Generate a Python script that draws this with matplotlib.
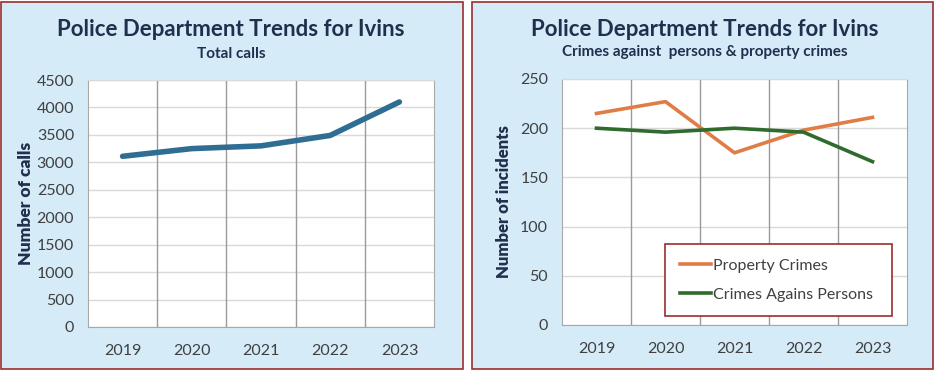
import numpy as np
import matplotlib.pyplot as plt
from matplotlib.patches import Rectangle

# data
years = ['2019', '2020', '2021', '2022', '2023']
total_calls = [3110, 3250, 3300, 3490, 4100]
property_crimes = [215, 227, 175, 198, 211]
person_crimes = [200, 196, 200, 196, 166]

plt.rcParams['font.family'] = ['Lato', 'DejaVu Sans']

W, H = 936, 370
fig = plt.figure(figsize=(W / 100, H / 100), dpi=100)

bg = '#d5ebf8'
border = '#9b2d2d'
navy = '#1f2f4d'
txt = '#404040'

# panel backgrounds with the red frame (pixel coords -> fig fractions)
for x0, x1 in [(1, 463), (472, 933)]:
    fig.patches.append(Rectangle((x0 / W, 1 / H), (x1 - x0) / W, (H - 3) / H,
                                 transform=fig.transFigure, facecolor=bg,
                                 edgecolor=border, lw=1.2, zorder=-5))


def setup(ax, ymax, ystep):
    x = np.arange(len(years))
    ax.set_facecolor('white')
    ax.set_xlim(-0.5, len(years) - 0.5)
    ax.set_ylim(0, ymax)
    ax.set_yticks(np.arange(0, ymax + 1, ystep))
    ax.set_xticks(x)
    ax.set_xticklabels(years)
    ax.tick_params(length=0, labelsize=11.5, labelcolor=txt)
    ax.tick_params(axis='x', pad=12)
    ax.tick_params(axis='y', pad=10)
    ax.yaxis.grid(True, color='#d9d9d9', lw=1)
    for b in np.arange(0.5, len(years) - 0.5):
        ax.axvline(b, color='#9a9a9a', lw=1, zorder=1)
    for s in ['left', 'right', 'bottom']:
        ax.spines[s].set_color('#a8a8a8')
    ax.spines['top'].set_color('#d9d9d9')
    ax.set_axisbelow(True)
    return x


# left panel: total calls
ax1 = fig.add_axes([88 / W, 1 - 327 / H, 346 / W, 247 / H])
x = setup(ax1, 4500, 500)
ax1.plot(x, total_calls, color='#2f6e92', lw=4, solid_capstyle='round',
         solid_joinstyle='round', zorder=3)
ax1.set_ylabel('Number of calls', fontsize=12.5, fontweight='heavy', color=navy, labelpad=2)
fig.text(231 / W, 1 - 30 / H, 'Police Department Trends for Ivins', ha='center', va='center',
         fontsize=16, fontweight='bold', color=navy)
fig.text(231 / W, 1 - 54 / H, 'Total calls', ha='center', va='center',
         fontsize=11, fontweight='bold', color=navy)

# right panel: crimes
ax2 = fig.add_axes([562 / W, 1 - 325 / H, 345 / W, 246 / H])
x = setup(ax2, 250, 50)
ax2.plot(x, property_crimes, color='#e07d47', lw=2.6, solid_joinstyle='round',
         label='Property Crimes', zorder=3)
ax2.plot(x, person_crimes, color='#2f6b2c', lw=2.6, solid_joinstyle='round',
         label='Crimes Agains Persons', zorder=3)
ax2.set_ylabel('Number of incidents', fontsize=12, fontweight='heavy', color=navy, labelpad=6)
fig.text(705 / W, 1 - 29 / H, 'Police Department Trends for Ivins', ha='center', va='center',
         fontsize=16, fontweight='bold', color=navy)
fig.text(705 / W, 1 - 52 / H, 'Crimes against  persons & property crimes', ha='center', va='center',
         fontsize=11, fontweight='bold', color=navy)

leg = ax2.legend(loc='lower left', bbox_to_anchor=(0.299, 0.037, 0.658, 0.26), mode='expand',
                 fancybox=False, edgecolor=border, fontsize=11.5, handlelength=2.0,
                 handletextpad=0.1, labelspacing=0.9, borderpad=0.9, borderaxespad=0,
                 framealpha=1)
leg.get_frame().set_linewidth(1.2)
for t in leg.get_texts():
    t.set_color(txt)

fig.savefig('out.png', dpi=100)
